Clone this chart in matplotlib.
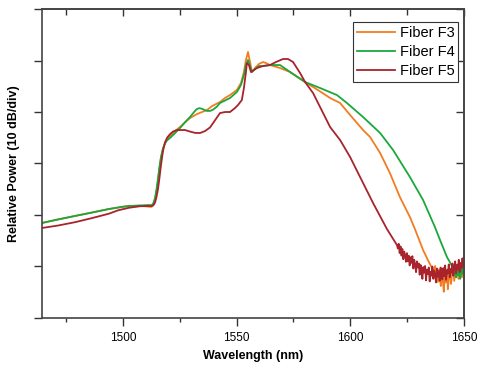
import numpy as np
import matplotlib
matplotlib.use('Agg')
import matplotlib.pyplot as plt

plt.rcParams['font.family'] = ['Liberation Sans', 'DejaVu Sans']

# Fiber F3 (orange): wavelength (nm), relative power (dB)
f3_nm = [1464.4, 1471.4, 1478.9, 1486.4, 1493.8, 1500.0, 1502.6, 1507.5, 1511.4, 1512.6,
         1513.4, 1514.1, 1514.7,
         1515.4, 1516.0, 1516.7, 1517.6, 1518.5, 1519.4, 1520.7, 1522.9, 1525.1, 1527.3,
         1529.5, 1532.6, 1537.0, 1539.2, 1542.7, 1544.9, 1547.1, 1550.1, 1551.9, 1553.2,
         1554.1, 1555.0, 1555.9, 1556.7, 1558.1, 1559.8, 1561.6, 1562.9, 1564.7, 1569.1,
         1573.5, 1580.1, 1586.0, 1591.1, 1595.5, 1599.9, 1605.6, 1608.7, 1613.1, 1617.4,
         1621.8, 1626.2, 1628.4, 1632.0, 1634.4, 1636.4,
         1636.9, 1637.3, 1637.7, 1638.1, 1638.5, 1639.0, 1639.4, 1639.8, 1640.3, 1640.7,
         1641.1, 1641.6, 1642.0, 1642.5, 1642.9, 1643.4, 1643.8, 1644.3, 1644.7, 1645.2,
         1645.7, 1646.2, 1646.6, 1647.1, 1647.6, 1648.1, 1648.6, 1649.1, 1649.6, 1650.0]
f3_db = [18.45, 19.13, 19.81, 20.48, 21.16, 21.60, 21.75, 21.80, 21.60, 21.60,
         22.10, 23.00, 24.40,
         26.60, 28.80, 31.00, 32.90, 34.00, 34.70, 35.30, 36.31, 37.09, 38.00,
         38.83, 39.61, 40.39, 41.16, 41.94, 42.72, 43.30, 44.27, 45.63, 47.77,
         50.10, 51.65, 49.71, 47.77, 48.54, 49.32, 49.71, 49.51, 49.12, 48.54,
         47.77, 45.82, 44.20, 42.72, 41.75, 39.42, 36.50, 35.14, 32.04, 28.15,
         23.49, 19.61, 17.28, 13.20, 11.00, 9.32,
         8.9, 10.1, 8.2, 9.6, 7.0, 9.4, 8.1, 6.2, 9.0, 7.4,
         5.1, 8.6, 6.9, 9.1, 5.6, 7.9, 9.6, 6.6, 8.4, 10.0,
         7.2, 9.3, 8.0, 10.4, 7.6, 9.0, 10.2, 7.9, 9.4, 8.2]

# Fiber F4 (green)
f4_nm = [1464.4, 1471.4, 1478.9, 1486.4, 1493.8, 1500.0, 1502.6, 1507.5, 1511.4, 1512.6,
         1513.4, 1514.1, 1514.7, 1515.4,
         1516.0, 1516.7, 1517.6, 1518.5, 1519.4, 1520.7, 1522.9, 1525.1, 1527.3, 1529.5,
         1531.2, 1532.4, 1533.6, 1534.8, 1536.0, 1537.2, 1538.4, 1539.6, 1541.2, 1542.7,
         1547.1, 1550.1, 1551.9,
         1553.2, 1554.1, 1555.0, 1555.9, 1556.7, 1558.1, 1559.8, 1561.6, 1564.7, 1569.1,
         1573.5, 1580.1, 1586.7, 1594.1, 1598.5, 1605.6, 1613.1, 1618.8, 1626.2, 1632.0,
         1637.2, 1639.8, 1642.5, 1645.2,
         1645.6, 1646.1, 1646.5, 1647.0, 1647.4, 1647.9, 1648.3, 1648.8, 1649.2, 1649.6,
         1650.0]
f4_db = [18.45, 19.13, 19.81, 20.48, 21.16, 21.60, 21.75, 21.85, 21.94, 21.90,
         22.30, 23.30, 24.80, 27.00,
         29.20, 31.20, 32.90, 33.90, 34.50, 34.95, 35.90, 36.89, 38.00, 39.03,
         39.95, 40.55, 40.75, 40.62, 40.35, 40.20, 40.22, 40.45, 41.00, 41.75,
         42.72, 43.88, 45.24,
         47.18, 49.12, 50.10, 48.93, 47.77, 48.35, 48.93, 48.93, 49.12, 49.12,
         47.77, 45.82, 44.66, 43.30, 41.75, 39.03, 35.92, 32.62, 27.38, 22.91,
         17.67, 14.76, 11.84, 9.71,
         8.4, 10.2, 7.9, 9.5, 8.3, 10.0, 7.6, 9.2, 10.4, 8.5,
         9.4]

# Fiber F5 (dark red)
f5_nm = [1464.4, 1471.4, 1478.9, 1486.4, 1493.8, 1497.8, 1502.6, 1507.5, 1511.4, 1512.6,
         1513.4, 1514.1, 1514.7,
         1515.4, 1516.0, 1516.7, 1517.6, 1518.5, 1519.4, 1520.7, 1522.0, 1523.8, 1527.3,
         1529.5, 1531.7, 1533.9, 1536.1, 1538.3, 1540.5, 1542.7, 1545.0, 1547.1, 1549.3,
         1550.6, 1552.3, 1553.2, 1554.1, 1554.5, 1555.4, 1556.3, 1557.6, 1558.9, 1561.6,
         1564.7, 1567.3, 1570.4, 1572.6, 1574.8, 1577.9, 1580.1, 1583.6, 1591.1, 1595.5,
         1599.9, 1604.3, 1610.0, 1616.1, 1620.5,
         1620.9, 1621.3, 1621.7, 1622.1, 1622.5, 1622.9, 1623.3, 1623.7, 1624.1, 1624.5,
         1624.9, 1625.3, 1625.7, 1626.1, 1626.5, 1626.9, 1627.3, 1627.7, 1628.1, 1628.5,
         1628.9, 1629.3, 1629.7, 1630.1, 1630.5, 1630.9, 1631.3, 1631.7, 1632.1, 1632.5,
         1632.9, 1633.3, 1633.7, 1634.1, 1634.5, 1634.9, 1635.3, 1635.7, 1636.1, 1636.5,
         1636.9, 1637.3, 1637.7, 1638.1, 1638.5, 1638.9, 1639.3, 1639.7, 1640.1, 1640.5,
         1640.9, 1641.3, 1641.7, 1642.1, 1642.5, 1642.9, 1643.3, 1643.7, 1644.1, 1644.5,
         1644.9, 1645.3, 1645.7, 1646.1, 1646.5, 1646.9, 1647.3, 1647.7, 1648.1, 1648.5,
         1648.9, 1649.3, 1649.7, 1650.0]
f5_db = [17.48, 17.95, 18.60, 19.40, 20.25, 20.90, 21.40, 21.70, 21.75, 21.70,
         21.90, 22.40, 23.40,
         25.00, 27.00, 29.60, 32.40, 34.10, 35.00, 35.70, 36.20, 36.50, 36.50,
         36.20, 35.95, 35.92, 36.30, 37.00, 38.40, 39.80, 40.00, 40.00, 40.78,
         41.36, 42.33, 44.66, 47.77, 49.51, 49.12, 47.77, 48.15, 48.54, 48.93,
         49.12, 49.71, 50.29, 50.29, 49.71, 47.57, 45.82, 43.69, 37.09, 34.56,
         31.26, 27.38, 22.33, 17.28, 14.17,
         13.5, 14.4, 12.6, 13.9, 12.1, 13.4, 11.4, 12.9, 12.2, 10.9,
         12.6, 11.0, 12.1, 10.2, 11.8, 10.7, 12.0, 9.6, 11.3, 10.4,
         8.9, 11.0, 9.8, 10.6, 8.4, 10.3, 9.2, 7.6, 9.9, 8.8,
         10.1, 7.3, 9.4, 8.5, 9.8, 7.1, 9.0, 8.2, 10.0, 7.6,
         9.2, 8.4, 6.9, 9.6, 8.0, 9.1, 7.2, 9.8, 8.3, 7.5,
         9.7, 8.1, 10.2, 7.4, 9.3, 8.6, 10.4, 7.9, 9.5, 8.8,
         10.6, 8.2, 9.9, 11.0, 8.7, 10.3, 9.4, 11.3, 8.9, 10.7,
         9.6, 11.6, 10.1, 11.0]

x_major = [1500, 1550, 1600, 1650]
x_minor = [1475, 1525, 1575, 1625]
y_ticks = [0, 10, 20, 30, 40, 50, 60]

fig = plt.figure(figsize=(4.79, 3.71), dpi=100)
ax = fig.add_axes([0.0877, 0.1429, 0.881, 0.8328])

ax.plot(f3_nm, f3_db, color='#f47b20', lw=1.3, label='Fiber F3')
ax.plot(f4_nm, f4_db, color='#1aa83c', lw=1.3, label='Fiber F4')
ax.plot(f5_nm, f5_db, color='#a8232b', lw=1.3, label='Fiber F5')

ax.set_xlim(1464.4, 1650)
ax.set_ylim(0, 60)
ax.set_xticks(x_major)
ax.set_xticks(x_minor, minor=True)
ax.set_yticks(y_ticks)
ax.set_yticklabels([])
ax.tick_params(axis='x', which='major', direction='out', length=6, width=1,
               color='#333333', labelsize=8.5, pad=4)
ax.tick_params(axis='x', which='minor', direction='out', length=3, width=1, color='#333333')
ax.tick_params(axis='y', which='major', direction='out', length=6, width=1, color='#333333')
for s in ax.spines.values():
    s.set_color('#444444')
    s.set_linewidth(1.2)

top = ax.secondary_xaxis('top')
top.set_xticks(x_major)
top.set_xticks(x_minor, minor=True)
top.tick_params(which='major', direction='in', length=5, width=1, color='#333333', labeltop=False)
top.tick_params(which='minor', direction='in', length=4, width=1, color='#333333')
top.spines['top'].set_color('#444444')
top.spines['top'].set_linewidth(1.2)

right = ax.secondary_yaxis('right')
right.set_yticks(y_ticks)
right.tick_params(direction='in', length=6, width=1, color='#333333', labelright=False)
right.spines['right'].set_color('#444444')
right.spines['right'].set_linewidth(1.2)

ax.set_xlabel('Wavelength (nm)', fontsize=9, fontweight='bold')
ax.xaxis.set_label_coords(0.5, -0.104)
ax.set_ylabel('Relative Power (10 dB/div)', fontsize=9, fontweight='bold')
ax.yaxis.set_label_coords(-0.052, 0.5)

leg = ax.legend(loc='upper right', bbox_to_anchor=(0.986, 0.957), fontsize=10.5,
                frameon=True, fancybox=False, borderpad=0.25, labelspacing=0.35,
                handlelength=2.6, handletextpad=0.35, borderaxespad=0.0)
leg.get_frame().set_edgecolor('#333333')
leg.get_frame().set_linewidth(0.8)
leg.get_frame().set_alpha(1)

fig.savefig('out.png', dpi=100)
